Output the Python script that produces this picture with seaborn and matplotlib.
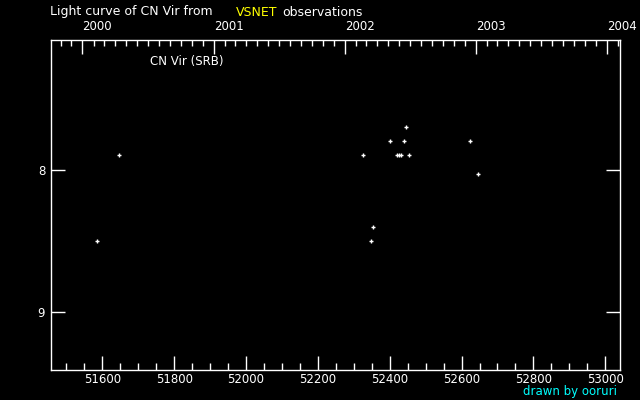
import datetime
import matplotlib
matplotlib.use("Agg")
import matplotlib.pyplot as plt
from matplotlib.ticker import FixedLocator, MultipleLocator, NullLocator
import seaborn as sns
import pandas as pd

# JD - 2400000 and visual magnitudes
jd = [51586, 51647, 52326, 52348, 52354, 52401, 52421, 52427, 52431,
      52440, 52446, 52454, 52624, 52646]
mag = [8.5, 7.9, 7.9, 8.5, 8.4, 7.8, 7.9, 7.9, 7.9,
       7.8, 7.7, 7.9, 7.8, 8.03]
years = [2000, 2001, 2002, 2003, 2004]
mag_ticks = [8, 9]

df = pd.DataFrame({"jd": jd, "mag": mag})

sns.set_style("dark")
plt.rcParams["font.family"] = ["DejaVu Sans"]

def to_jd(d):
    return (d - datetime.datetime(2000, 1, 1)).days + 51544.5

fig = plt.figure(figsize=(6.4, 4), dpi=100)
fig.patch.set_facecolor("black")
ax = fig.add_axes([0.0792, 0.075, 0.890, 0.824])
ax.set_facecolor("black")

sns.scatterplot(data=df, x="jd", y="mag", marker="+", color="white",
                s=12, linewidth=1.0, ax=ax, legend=False)

ax.set_xlim(51456, 53042)
ax.set_ylim(9.406, 7.094)
ax.set_xlabel("")
ax.set_ylabel("")
ax.grid(False)
for s in ax.spines.values():
    s.set_color("white")
    s.set_linewidth(1)

ax.xaxis.set_major_locator(MultipleLocator(200))
ax.xaxis.set_minor_locator(MultipleLocator(50))
ax.yaxis.set_major_locator(FixedLocator(mag_ticks))
ax.yaxis.set_minor_locator(NullLocator())
ax.tick_params(axis="both", which="major", direction="in", length=10,
               width=1, colors="white", labelsize=8.5, pad=4,
               right=True, bottom=True, left=True)
ax.tick_params(axis="x", which="major", pad=2)
ax.tick_params(axis="x", which="minor", direction="in", length=5,
               width=1, colors="white", bottom=True)
ax.tick_params(axis="y", which="minor", length=0)

# calendar years on the top axis
top = ax.twiny()
top.set_xlim(ax.get_xlim())
top.xaxis.set_major_locator(FixedLocator([to_jd(datetime.datetime(y, 1, 1)) for y in years]))
top.set_xticklabels([str(y) for y in years], ha="left")
months = [to_jd(datetime.datetime(y, m, 1)) for y in range(1999, 2005) for m in range(1, 13)]
top.xaxis.set_minor_locator(FixedLocator(months))
top.tick_params(axis="x", which="major", direction="in", length=10, width=1,
                colors="white", labelsize=8.5, pad=5)
top.tick_params(axis="x", which="minor", direction="in", length=4, width=1,
                colors="white")
for s in top.spines.values():
    s.set_visible(False)
top.grid(False)

fig.text(50 / 640, 1 - 12 / 400, "Light curve of CN Vir from", color="white",
         fontsize=9, va="center", ha="left")
fig.text(236 / 640, 1 - 12 / 400, "VSNET", color="yellow",
         fontsize=9, va="center", ha="left")
fig.text(282 / 640, 1 - 12 / 400, "observations", color="white",
         fontsize=9, va="center", ha="left")
fig.text(150 / 640, 1 - 61 / 400, "CN Vir (SRB)", color="white",
         fontsize=8.5, va="center", ha="left")
fig.text(617 / 640, 1 - 391 / 400, "drawn by ooruri", color="cyan",
         fontsize=8.5, va="center", ha="right")

fig.savefig("out.png", dpi=100, facecolor="black")
